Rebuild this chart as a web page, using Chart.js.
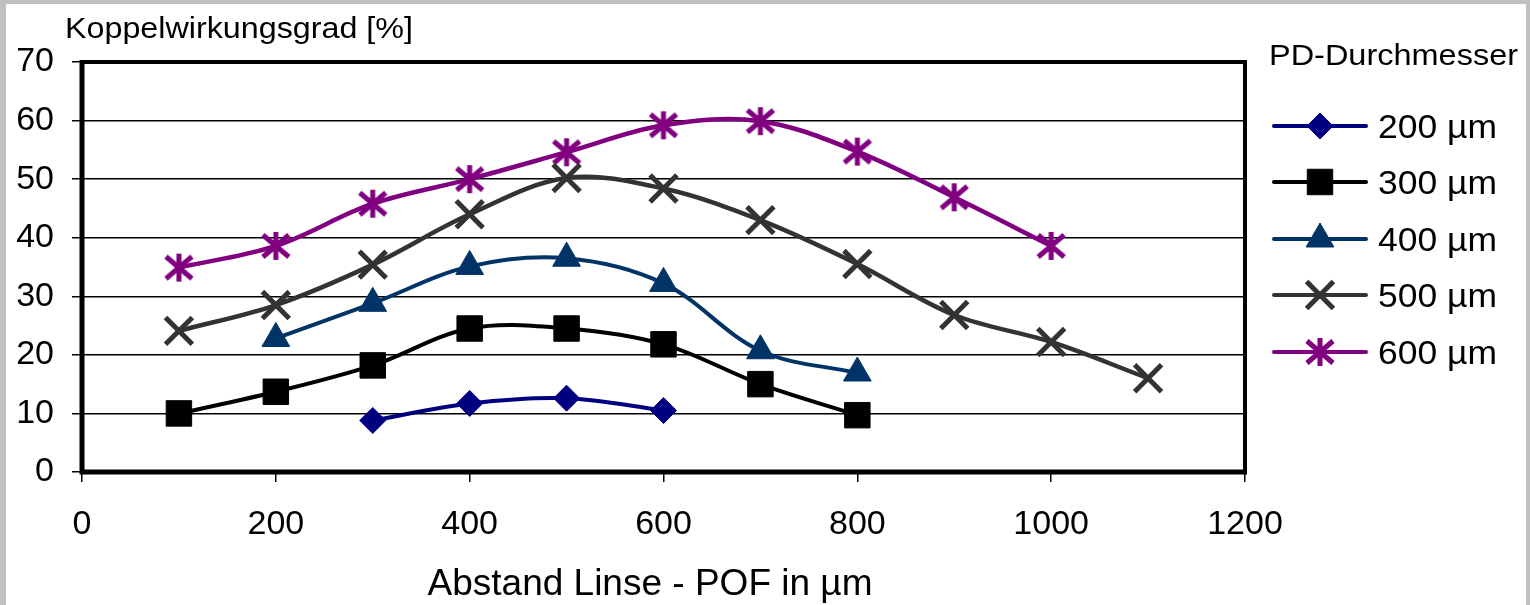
<!DOCTYPE html>
<html lang="de">
<head>
  <meta charset="UTF-8">
  <title>Koppelwirkungsgrad</title>
  <script src="https://cdn.jsdelivr.net/npm/chart.js"></script>
  <style>
    body {
      margin: 0;
      background: #c0c0c0;
      width: 1530px;
      height: 605px;
      overflow: hidden;
    }
    .frame {
      position: absolute;
      left: 6px;
      top: 4px;
      width: 1520px;
      height: 601px;
      background: #ffffff;
    }
  </style>
</head>
<body>
  <div class="frame">
    <canvas id="chart" width="1520" height="601"></canvas>
  </div>

  <script>
    // Abstand Linse - POF (µm)
    const distances = [100, 200, 300, 400, 500, 600, 700, 800, 900, 1000, 1100];
    const labels = ['200 µm', '300 µm', '400 µm', '500 µm', '600 µm'];

    // Koppelwirkungsgrad in %, null = kein Messpunkt
    const pd200 = [null, null, 8.8, 11.7, 12.6, 10.5, null, null, null, null, null];
    const pd300 = [10.0, 13.7, 18.2, 24.5, 24.5, 21.8, 15.0, 9.7, null, null, null];
    const pd400 = [null, 22.8, 28.8, 35.1, 36.5, 32.2, 20.7, 16.9, null, null, null];
    const pd500 = [24.1, 28.5, 35.4, 44.0, 50.2, 48.4, 43.0, 35.5, 26.8, 22.2, 16.0];
    const pd600 = [34.9, 38.6, 45.8, 50.0, 54.6, 59.2, 59.9, 54.7, 46.9, 38.6, null];

    const yTicks = [0, 10, 20, 30, 40, 50, 60, 70];
    const xTicks = [0, 200, 400, 600, 800, 1000, 1200];

    const colors = ['#000080', '#000000', '#003366', '#333333', '#800080'];

    // asterisk marker (vertical line + X) like Excel's star
    function makeStar(color) {
      const c = document.createElement('canvas');
      c.width = 32; c.height = 32;
      const g = c.getContext('2d');
      g.strokeStyle = color;
      g.lineWidth = 5;
      g.beginPath();
      g.moveTo(16, 2); g.lineTo(16, 30);
      g.moveTo(3, 5); g.lineTo(29, 27);
      g.moveTo(3, 27); g.lineTo(29, 5);
      g.stroke();
      return c;
    }

    const markers = [
      { pointStyle: 'rectRot', radius: 13, borderWidth: 1 },
      { pointStyle: 'rect', radius: 18, borderWidth: 1 },
      { pointStyle: 'triangle', radius: 16, borderWidth: 1 },
      { pointStyle: 'crossRot', radius: 19, borderWidth: 5 },
      { pointStyle: makeStar(colors[4]), radius: 16, borderWidth: 5 }
    ];

    const lineWidths = [4, 4, 4, 4.5, 4.5];

    function toPoints(values) {
      const pts = [];
      values.forEach((v, i) => {
        if (v !== null) pts.push({ x: distances[i], y: v });
      });
      return pts;
    }

    const allSeries = [pd200, pd300, pd400, pd500, pd600];

    const datasets = allSeries.map((vals, i) => ({
      label: labels[i],
      data: toPoints(vals),
      borderColor: colors[i],
      backgroundColor: colors[i],
      borderWidth: lineWidths[i],
      tension: 0.35,
      pointStyle: markers[i].pointStyle,
      pointRadius: markers[i].radius,
      pointBorderWidth: markers[i].borderWidth,
      pointBackgroundColor: colors[i],
      pointBorderColor: colors[i]
    }));

    function stretchText(ctx, text, x, y, width, align) {
      const w = ctx.measureText(text).width;
      const sx = width / w;
      ctx.save();
      ctx.translate(x, y);
      ctx.scale(sx, 1);
      ctx.textAlign = 'left';
      ctx.fillText(text, align === 'center' ? -w / 2 : 0, 0);
      ctx.restore();
    }

    const decorations = {
      id: 'decorations',
      afterDraw(chart) {
        const ctx = chart.ctx;
        const a = chart.chartArea;
        ctx.save();

        // plot frame
        ctx.strokeStyle = '#000';
        ctx.lineWidth = 4;
        ctx.strokeRect(a.left, a.top, a.right - a.left, a.bottom - a.top);
        ctx.lineWidth = 5;
        ctx.beginPath();
        ctx.moveTo(a.left, a.top - 2);
        ctx.lineTo(a.left, a.bottom);
        ctx.lineTo(a.right + 2, a.bottom);
        ctx.stroke();

        ctx.fillStyle = '#000';
        ctx.textBaseline = 'alphabetic';

        // y axis title (horizontal, top left)
        ctx.font = '30px "Liberation Sans", Arial, sans-serif';
        stretchText(ctx, 'Koppelwirkungsgrad [%]', 59, 34, 348);

        // x axis title
        ctx.font = '37px "Liberation Sans", Arial, sans-serif';
        stretchText(ctx, 'Abstand Linse - POF in µm', 644, 591, 445, 'center');

        // legend
        ctx.font = '30px "Liberation Sans", Arial, sans-serif';
        stretchText(ctx, 'PD-Durchmesser', 1263, 61, 249);

        const rowY = [122, 178, 235, 291, 348];
        chart.data.datasets.forEach((ds, i) => {
          const y = rowY[i];
          ctx.strokeStyle = ds.borderColor;
          ctx.lineWidth = 4;
          ctx.lineCap = 'round';
          ctx.beginPath();
          ctx.moveTo(1268, y);
          ctx.lineTo(1360, y);
          ctx.stroke();
          ctx.lineCap = 'butt';
          ctx.fillStyle = ds.backgroundColor;
          ctx.strokeStyle = ds.borderColor;
          ctx.lineWidth = ds.pointBorderWidth;
          Chart.helpers.drawPoint(ctx, {
            pointStyle: ds.pointStyle,
            radius: ds.pointRadius,
            borderWidth: ds.pointBorderWidth,
            rotation: 0
          }, 1314, y);
          ctx.fillStyle = '#000';
          ctx.font = '33px "Liberation Sans", Arial, sans-serif';
          stretchText(ctx, ds.label, 1372, y + 12, 119);
        });

        ctx.restore();
      }
    };

    new Chart(document.getElementById('chart'), {
      type: 'line',
      data: { datasets: datasets },
      plugins: [decorations],
      options: {
        responsive: false,
        animation: false,
        events: [],
        layout: {
          padding: { top: 58, right: 281, left: 0, bottom: 0 }
        },
        plugins: {
          legend: { display: false },
          title: { display: false },
          tooltip: { enabled: false }
        },
        scales: {
          x: {
            type: 'linear',
            min: 0,
            max: 1200,
            afterFit(scale) { scale.height = 133; },
            afterBuildTicks(scale) { scale.ticks = xTicks.map(v => ({ value: v })); },
            border: { display: false },
            grid: {
              drawOnChartArea: false,
              drawTicks: true,
              tickLength: 10,
              color: '#000',
              lineWidth: 1.5
            },
            ticks: {
              color: '#000',
              padding: 22,
              maxRotation: 0,
              callback: v => String(v),
              font: { family: '"Liberation Sans", Arial, sans-serif', size: 34 }
            }
          },
          y: {
            min: 0,
            max: 70,
            afterFit(scale) { scale.width = 76; },
            afterBuildTicks(scale) { scale.ticks = yTicks.map(v => ({ value: v })); },
            border: { display: false },
            grid: {
              drawTicks: true,
              tickLength: 10,
              color: '#000',
              lineWidth: 1.5
            },
            ticks: {
              color: '#000',
              padding: 18,
              callback: v => String(v),
              font: { family: '"Liberation Sans", Arial, sans-serif', size: 34 }
            }
          }
        }
      }
    });
  </script>
</body>
</html>
